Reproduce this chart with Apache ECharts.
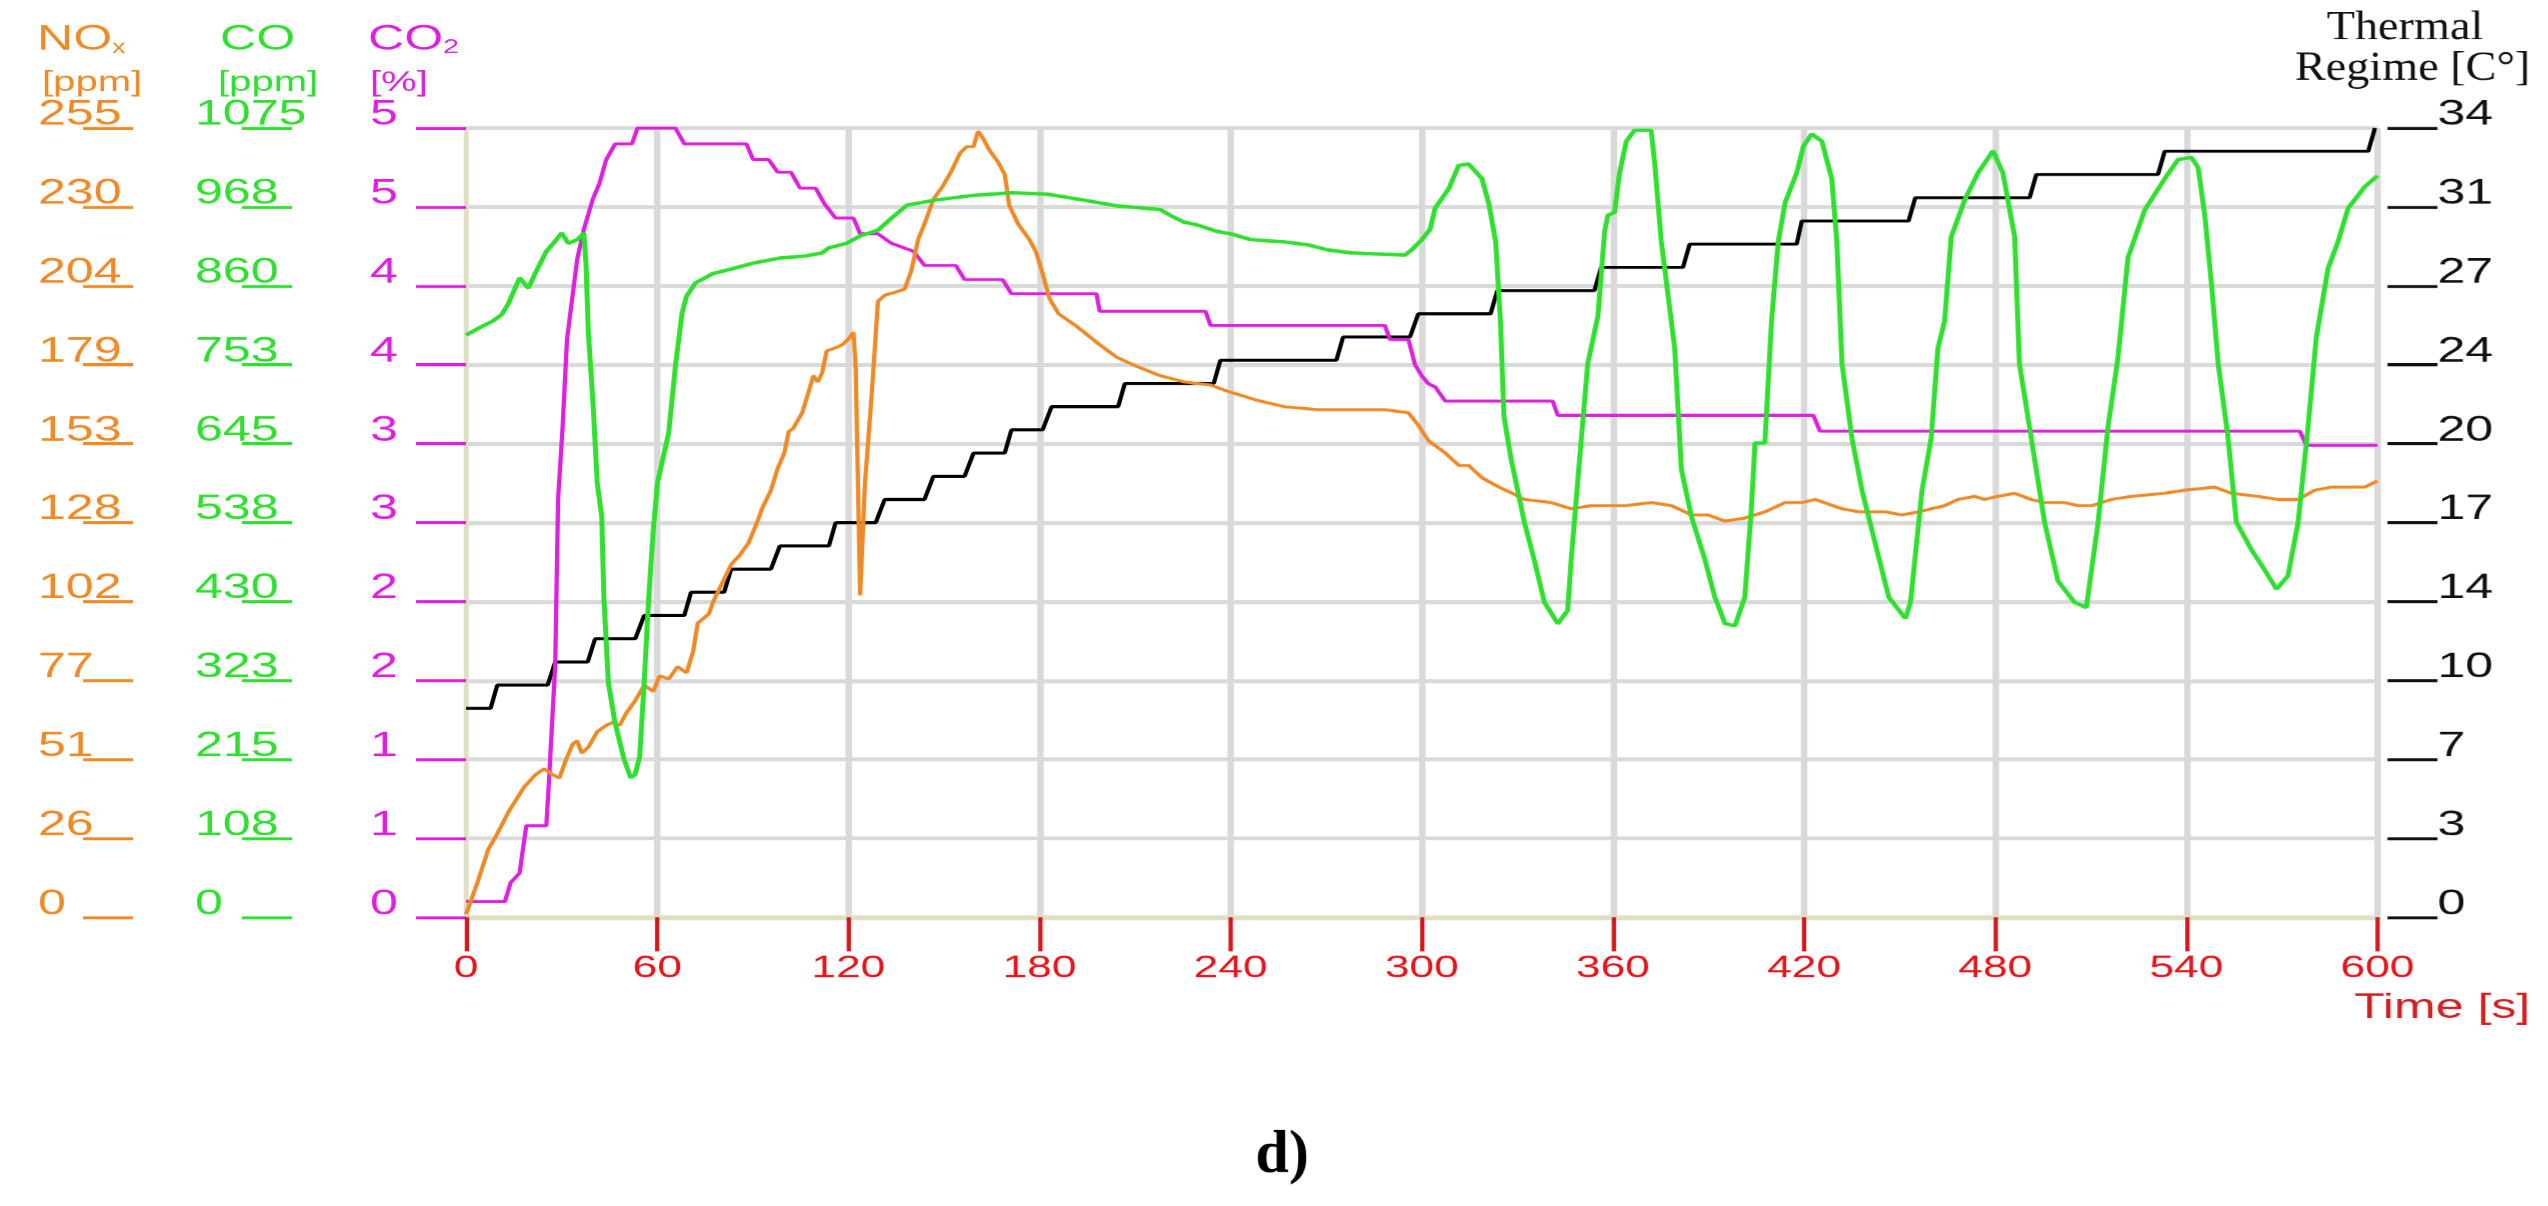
<!DOCTYPE html>
<html>
<head>
<meta charset="utf-8">
<script src="https://cdn.jsdelivr.net/npm/echarts@6/dist/echarts.min.js"></script>
<style>
html,body{margin:0;padding:0;background:#fff;overflow:hidden;}
#chart{position:absolute;left:0;top:0;transform-origin:0 0;}
</style>
</head>
<body>
<div id="chart"></div>
<script>
// ---------- data ----------
const timeTicks = [0, 60, 120, 180, 240, 300, 360, 420, 480, 540, 600];
const noxTicks  = ['0','26','51','77','102','128','153','179','204','230','255'];
const coTicks   = ['0','108','215','323','430','538','645','753','860','968','1075'];
const co2Ticks  = ['0','1','1','2','2','3','3','4','4','5','5'];
const tempTicks = ['0','3','7','10','14','17','20','24','27','31','34'];

// NOx [ppm] : [time s, value]
const noxData = [[0,1],[3.5,11],[7,22],[9.8,27],[13.3,34],[18.2,42],[21.7,46],[24.5,48],[27.3,46],[29.3,45],[31.4,51],[33.5,56],[34.9,57],[36.3,53],[38.4,55],[41.2,60],[44,62],[46.1,63],[48.2,62],[50.3,66],[53.1,70],[55.9,75],[58.7,73],[60.8,78],[63.6,77],[66.4,81],[69.2,79],[71.3,86],[72.7,95],[76.2,98],[77.6,102],[80.4,108],[83.2,114],[85.9,117],[88.7,121],[91.5,128],[92.9,132],[95.7,138],[97.8,145],[99.9,150],[101.3,157],[102.7,158],[105.5,163],[107.6,170],[109,175],[110.4,173],[111.8,176],[113.2,183],[116,184],[118.1,185],[120.2,187],[121.6,189],[122.3,178],[123.7,104],[125.2,140],[127.2,167],[129.3,199],[131.4,201],[134.9,202],[137.7,203],[139.8,209],[141.9,219],[143.9,224],[146.7,232],[149.5,236],[152.3,241],[155.1,247],[157.2,249],[159.3,249],[160.7,254],[162.1,252],[164.2,248],[167,244],[169.1,240],[170.5,230],[173.3,224],[176.8,219],[178.9,215],[181,208],[183.1,200],[186,195],[191.6,191],[198.9,185],[204.2,181],[210.5,178],[217.9,175],[225.3,173],[233.7,172],[238.9,170],[242.1,169],[248.4,167],[256.8,165],[267.4,164],[272.6,164],[277.9,164],[288.4,164],[295.8,163],[298.9,159],[302.1,154],[307.4,150],[311.6,146],[314.7,146],[318.9,142],[324.2,139],[328.4,137],[332.2,135],[340.6,134],[346.9,132],[353.2,133],[363.7,133],[372.1,134],[378.4,133],[384.7,130],[389.9,130],[395.1,128],[401.4,129],[407.7,131],[414,134],[419.3,134],[423.5,135],[431.9,132],[437.1,131],[445.5,131],[450.7,130],[456,131],[459.9,132],[464.1,133],[468.3,135],[473.5,136],[476.6,135],[480.8,136],[486.1,137],[491.3,135],[495.5,134],[501.8,134],[506,133],[510.2,133],[516.4,135],[522.7,136],[533.2,137],[539.5,138],[548.9,139],[554.1,137],[562.5,136],[568.8,135],[575.1,135],[580.3,138],[585.5,139],[596,139],[600,141]];

// CO [ppm]
const coData = [[0,793],[4.2,803],[8.4,812],[11.2,821],[13.3,836],[16.8,871],[19.6,857],[21.7,877],[25.2,907],[28,921],[30,932],[32.1,918],[34.9,923],[37,932],[37.7,887],[38.4,796],[39.8,705],[41.2,591],[42.6,546],[43.3,433],[44.7,319],[46.8,264],[49.6,215],[51.7,190],[53.1,195],[54.5,219],[55.9,319],[57.3,433],[58.7,524],[60.1,592],[63.6,660],[65.7,750],[67.8,823],[69.2,846],[72,864],[77.6,877],[83.2,883],[90.1,891],[98.5,898],[106.9,901],[111.8,905],[113.9,912],[119.5,918],[123.7,928],[129.3,936],[133.5,952],[138.4,970],[147.4,977],[158.6,983],[171.2,987],[182.4,985],[193.7,977],[204.2,969],[217.9,964],[221.1,956],[225.3,947],[229.5,943],[235.8,934],[240,931],[246.3,923],[256.8,920],[264.2,916],[270.5,909],[277.9,905],[288.4,903],[294.7,902],[296.8,909],[300,923],[302.6,937],[304.2,966],[308.4,992],[311.6,1024],[314.7,1026],[318.9,1006],[321.1,971],[323.2,920],[324.7,812],[325.8,682],[328,625],[332.2,538],[335.3,487],[338.5,429],[342.7,400],[345.8,418],[346.9,487],[349,596],[352.1,754],[355.3,819],[357.4,934],[358.4,956],[360.5,960],[362.1,1014],[364.2,1057],[366.8,1072],[372,1072],[373.1,1028],[375.2,920],[377.3,848],[379.4,775],[381.5,610],[384.7,545],[388.9,487],[392,436],[395.2,400],[398.3,397],[401.4,436],[403.5,559],[404.6,646],[407.7,646],[409.8,812],[411.9,920],[414.1,974],[417.7,1014],[419.8,1050],[422.4,1067],[425.6,1057],[428.7,1006],[430.3,920],[431.9,754],[435,653],[438.2,581],[442.4,508],[446.6,436],[451.8,407],[453.4,429],[457,581],[459.9,653],[462,775],[464.1,812],[466.2,927],[470.4,977],[474.6,1014],[479.3,1044],[482.4,1014],[486.1,927],[487.6,754],[491.3,653],[495.5,538],[499.7,458],[504.9,429],[508.6,422],[512.3,538],[515.4,668],[518.5,761],[521.7,899],[526.9,963],[533.2,1006],[537.4,1032],[541.6,1035],[543.7,1021],[545.8,956],[547.9,862],[550,754],[553.1,653],[555.7,538],[560.4,501],[564.6,473],[568.3,447],[571.9,465],[575.1,538],[578.2,668],[580.8,790],[584.5,884],[587.6,920],[590.8,966],[596,995],[600,1010]];

// CO2 [%]
const co2Data = [[0,0.1],[12.2,0.1],[14,0.22],[16.8,0.28],[18.9,0.58],[25.2,0.58],[26,0.85],[28,1.6],[28.9,2.65],[30.3,3.1],[31.7,3.66],[34.9,4.17],[37,4.36],[39.8,4.55],[41.9,4.65],[44,4.8],[46.8,4.9],[52.1,4.9],[53.8,5.0],[65.7,5.0],[68.5,4.9],[88,4.9],[90.1,4.8],[95,4.8],[97.8,4.72],[102,4.72],[104.8,4.62],[109.7,4.62],[112.5,4.52],[116,4.43],[121.6,4.43],[123.7,4.33],[129.3,4.33],[133.5,4.27],[140.4,4.22],[143.9,4.13],[153.7,4.13],[156.5,4.04],[168.4,4.04],[171.2,3.95],[197.9,3.95],[198.9,3.84],[232.1,3.84],[233.7,3.75],[288.4,3.75],[290,3.66],[295.8,3.66],[297.9,3.5],[300,3.43],[302.1,3.38],[304.2,3.36],[307.4,3.27],[341.1,3.27],[342.7,3.18],[422.9,3.18],[425,3.08],[575.6,3.08],[577.7,2.99],[600,2.99]];

// Thermal regime [C°]
const tempData = [[0,9],[7.7,9],[9.8,10],[25.6,10],[28,11],[38.2,11],[40.5,12],[53.1,12],[55.9,13],[68.5,13],[70.6,14],[81,14],[83.2,15],[95.7,15],[98.5,16],[113.9,16],[116,17],[128.6,17],[131.4,18],[143.9,18],[146.7,19],[156.5,19],[159.3,20],[169.1,20],[171.2,21],[181,21],[183.8,22],[204.7,22],[206.8,23],[234.7,23],[236.8,24],[273.2,24],[275.3,25],[296.3,25],[298.9,26],[321.6,26],[323.7,27],[354.2,27],[356.3,28],[382,28],[384.1,29],[417.7,29],[419.3,30],[452.8,30],[454.9,31],[490.8,31],[492.9,32],[531.1,32],[533.2,33],[597.1,33],[599.2,34]];

// ---------- layout ----------
const W = 2548, H = 1206;
const S = 1.43;               // horizontal stretch of the original figure
const px = v => v / S;        // reference x -> chart x

const el = document.getElementById('chart');
el.style.width = (W / S) + 'px';
el.style.height = H + 'px';
el.style.transform = 'scaleX(' + S + ')';

const chart = echarts.init(el, null, { devicePixelRatio: S, renderer: 'canvas' });

const ORANGE = '#f08a26', GREEN = '#2fe02f', MAGENTA = '#e020e0', RED = '#e8141c';
const GRID = '#d9d9d9', BEIGE = '#dfdfc4';
const SANS = 'Liberation Sans', SERIF = 'Liberation Serif';

function leftAxis(min, max, interval, labels, color, axisX, labelX, extra) {
  return Object.assign({
    type: 'value', position: 'left', offset: px(466 - axisX),
    min: min, max: max, interval: interval,
    axisLine: { show: false, onZero: false },
    axisTick: { show: true, length: px(50), lineStyle: { color: color, width: 3 } },
    axisLabel: {
      color: color, fontSize: 35, fontFamily: SANS, margin: px(axisX - labelX),
      align: 'left', verticalAlign: 'bottom', lineHeight: 26,
      formatter: v => labels[Math.round(v / interval)]
    },
    splitLine: { show: false }
  }, extra || {});
}

const option = {
  animation: false,
  backgroundColor: '#ffffff',
  grid: { left: px(466), right: px(W - 2377), top: 128, bottom: H - 917, outerBoundsMode: 'none' },
  xAxis: {
    type: 'value', min: 0, max: 600, interval: 60,
    axisLine: { show: true, onZero: false, lineStyle: { color: BEIGE, width: 5 } },
    axisTick: { show: true, length: 34, lineStyle: { color: '#d61818', width: 3 } },
    axisLabel: { color: RED, fontSize: 31, fontFamily: SANS, margin: 36,
      formatter: v => String(timeTicks[Math.round(v / 60)]) },
    splitLine: { show: true, showMinLine: false, lineStyle: { color: GRID, width: 4.5 } }
  },
  yAxis: [
    leftAxis(0, 255, 25.5, noxTicks, ORANGE, 133, 38),
    leftAxis(0, 1075, 107.5, coTicks, GREEN, 292, 195),
    leftAxis(0, 5, 0.5, co2Ticks, MAGENTA, 466, 370, {
      axisLine: { show: true, onZero: false, lineStyle: { color: BEIGE, width: 3.5 } },
      splitLine: { show: true, showMinLine: false, lineStyle: { color: GRID, width: 4 } }
    }),
    {
      type: 'value', position: 'right', offset: px(2387 - 2377),
      min: 0, max: 34, interval: 3.4,
      axisLine: { show: false, onZero: false },
      axisTick: { show: true, length: px(50), lineStyle: { color: '#111', width: 3 } },
      axisLabel: { color: '#111', fontSize: 35, fontFamily: SANS, margin: px(50),
        align: 'left', verticalAlign: 'bottom', lineHeight: 26,
        formatter: v => tempTicks[Math.round(v / 3.4)] },
      splitLine: { show: false }
    }
  ],
  series: [
    { name: 'Thermal', type: 'line', yAxisIndex: 3, data: tempData, showSymbol: false,
      lineStyle: { color: '#000', width: 3 }, z: 2 },
    { name: 'CO2', type: 'line', yAxisIndex: 2, data: co2Data, showSymbol: false,
      lineStyle: { color: MAGENTA, width: 3 }, z: 3 },
    { name: 'NOx', type: 'line', yAxisIndex: 0, data: noxData, showSymbol: false,
      lineStyle: { color: ORANGE, width: 3 }, z: 4 },
    { name: 'CO', type: 'line', yAxisIndex: 1, data: coData, showSymbol: false,
      lineStyle: { color: GREEN, width: 3.5 }, z: 5 }
  ],
  graphic: [
    { type: 'text', x: px(37), y: 40, style: {
        text: '{a|NO}{b|x}', fill: ORANGE, verticalAlign: 'middle', align: 'left',
        rich: { a: { fontSize: 35, fontFamily: SANS, fill: ORANGE },
                b: { fontSize: 19, fontFamily: SANS, fill: ORANGE, verticalAlign: 'bottom' } } } },
    { type: 'text', x: px(42), y: 83, style: { text: '[ppm]', fill: ORANGE,
        font: '28px "Liberation Sans"', align: 'left', verticalAlign: 'middle' } },
    { type: 'text', x: px(220), y: 40, style: { text: 'CO', fill: GREEN,
        font: '35px "Liberation Sans"', align: 'left', verticalAlign: 'middle' } },
    { type: 'text', x: px(218), y: 83, style: { text: '[ppm]', fill: GREEN,
        font: '28px "Liberation Sans"', align: 'left', verticalAlign: 'middle' } },
    { type: 'text', x: px(368), y: 40, style: {
        text: '{a|CO}{b|2}', fill: MAGENTA, verticalAlign: 'middle', align: 'left',
        rich: { a: { fontSize: 35, fontFamily: SANS, fill: MAGENTA },
                b: { fontSize: 20, fontFamily: SANS, fill: MAGENTA, verticalAlign: 'bottom' } } } },
    { type: 'text', x: px(370), y: 83, style: { text: '[%]', fill: MAGENTA,
        font: '28px "Liberation Sans"', align: 'left', verticalAlign: 'middle' } },
    { type: 'text', x: px(2483), y: 28, scaleX: 1.1 / S, style: { text: 'Thermal', fill: '#111',
        font: '42px "Liberation Serif"', align: 'right', verticalAlign: 'middle' } },
    { type: 'text', x: px(2530), y: 69, scaleX: 1.1 / S, style: { text: 'Regime [C°]', fill: '#111',
        font: '42px "Liberation Serif"', align: 'right', verticalAlign: 'middle' } },
    { type: 'text', x: px(2530), y: 1008, style: { text: 'Time [s]', fill: '#d42020',
        font: '35px "Liberation Sans"', align: 'right', verticalAlign: 'middle' } },
    { type: 'text', x: px(1282), y: 1156, scaleX: 1 / S, style: { text: 'd)', fill: '#000',
        font: 'bold 60px "Liberation Serif"', align: 'center', verticalAlign: 'middle' } }
  ]
};
chart.setOption(option);
</script>
</body>
</html>
